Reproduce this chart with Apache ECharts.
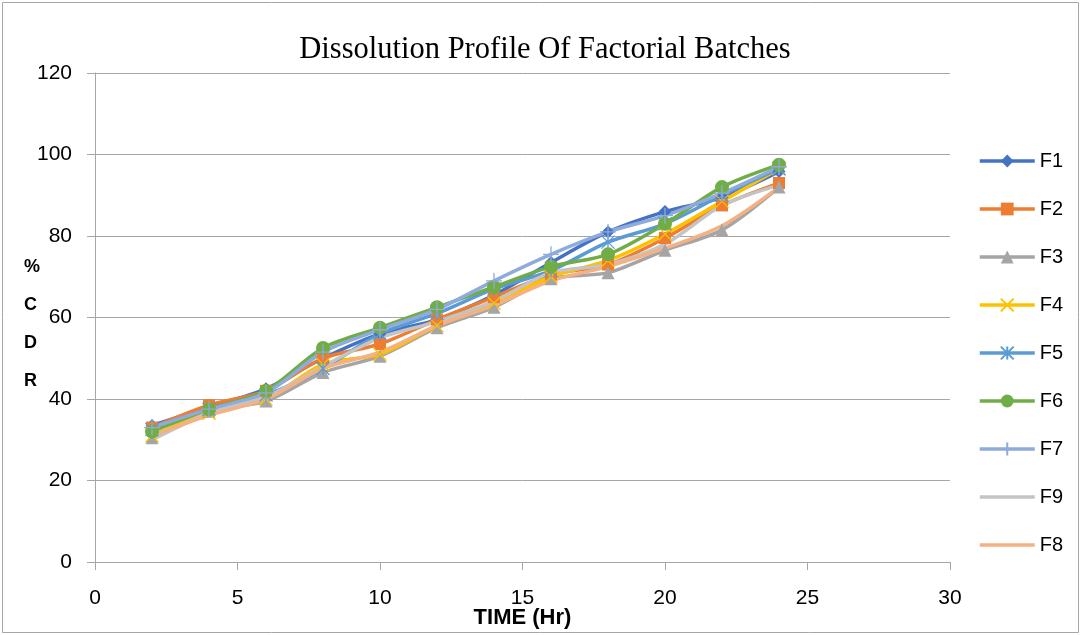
<!DOCTYPE html>
<html>
<head>
<meta charset="utf-8">
<script src="https://cdn.jsdelivr.net/npm/echarts@6/dist/echarts.min.js"></script>
<style>
html,body{margin:0;padding:0;background:#fff;}
#c{width:1081px;height:635px;}
</style>
</head>
<body>
<div id="c"></div>
<script>
const times = [2,4,6,8,10,12,14,16,18,20,22,24];
const seriesNames = ['F1','F2','F3','F4','F5','F6','F7','F9','F8'];
const F1 = [33.5, 38, 42.5, 50, 56, 59.5, 65.5, 73.5, 81, 86, 89.5, 95.8];
const F2 = [33, 38.5, 42, 50, 53.5, 59.5, 65, 70.5, 73, 79.5, 87.5, 93];
const F3 = [30.5, 37, 39.5, 46.5, 50.5, 57.5, 62.5, 69.5, 71, 76.5, 81.5, 92];
const F4 = [31, 36.5, 40, 48.5, 51, 58, 63.5, 70, 74, 80.5, 88.5, 96.5];
const F5 = [32.5, 37.5, 41, 47.5, 56, 61, 67, 71.5, 78.5, 83, 90, 96.5];
const F6 = [32, 37.5, 42, 52.5, 57.5, 62.5, 67.5, 72.5, 75.5, 83, 92, 97.5];
const F7 = [33, 37.5, 41.5, 51.5, 57, 62, 69, 75.5, 81, 85, 90.5, 97];
const F9 = [30, 36.5, 40.5, 48, 55, 59, 64, 71, 73, 78, 87.5, 92.5];
const F8 = [31, 36, 40, 47.5, 51.5, 58, 63, 69, 72.5, 77, 82.5, 92];
const xTicks = [0,5,10,15,20,25,30];
const yTicks = [0,20,40,60,80,100,120];

const values = {F1,F2,F3,F4,F5,F6,F7,F9,F8};
const colors = {F1:'#4472C4',F2:'#ED7D31',F3:'#A5A5A5',F4:'#FFC000',F5:'#5B9BD5',F6:'#70AD47',F7:'#8FAADC',F9:'#C4C4C4',F8:'#F4B183'};
const symbols = {
  F1:'diamond', F2:'rect', F3:'triangle',
  F4:'path://M0,0L10,10M10,0L0,10',
  F5:'path://M0,0L10,10M10,0L0,10M5,0L5,10',
  F6:'circle',
  F7:'path://M5,0L5,10M0,5L10,5',
  F9:'path://M0,0L10,10', F8:'path://M0,0L10,10'
};
const sizes = {F1:13,F2:12,F3:13,F4:13,F5:13,F6:14,F7:16,F9:1,F8:1};
const strokeOnly = {F4:true,F5:true,F7:true};
const noMarker = {F9:true,F8:true};

const chart = echarts.init(document.getElementById('c'));
const series = seriesNames.map(n => ({
  name: n,
  type: 'line',
  smooth: 0.3,
  data: times.map((t,i) => [t, values[n][i]]),
  symbol: symbols[n],
  symbolSize: sizes[n],
  showSymbol: !noMarker[n],
  lineStyle: {color: colors[n], width: 3.5},
  itemStyle: strokeOnly[n]
    ? {color: colors[n], borderColor: colors[n], borderWidth: 1.3}
    : (noMarker[n] ? {color: colors[n], borderWidth: 0} : {color: colors[n]}),
  emphasis: {disabled: true},
  animation: false
}));

chart.setOption({
  animation: false,
  backgroundColor: '#fff',
  title: {
    text: 'Dissolution Profile Of Factorial Batches',
    left: 540, top: 29, textAlign: 'center',
    textStyle: {fontFamily: 'Liberation Serif', fontWeight: 'normal', fontSize: 30.5, color: '#000'}
  },
  grid: {left: 95, right: 131, top: 73, bottom: 73, containLabel: false, outerBoundsMode: 'none'},
  legend: {
    orient: 'vertical', left: 973, top: 146,
    itemWidth: 55, itemHeight: 16, itemGap: 28,
    lineStyle: {width: 3.5},
    textStyle: {fontFamily: 'Liberation Sans', fontSize: 20, color: '#000'},
    data: seriesNames
  },
  xAxis: {
    type: 'value', min: 0, max: 30, interval: 5,
    name: 'TIME (Hr)', nameLocation: 'middle', nameGap: 45, nameMoveOverlap: false,
    nameTextStyle: {fontFamily: 'Liberation Sans', fontWeight: 'bold', fontSize: 22, color: '#000'},
    axisLine: {show: true, lineStyle: {color: '#a6a6a6', width: 1}},
    axisTick: {show: true, length: 8, lineStyle: {color: '#a6a6a6'}},
    splitLine: {show: false},
    axisLabel: {fontFamily: 'Liberation Sans', fontSize: 21, color: '#000', margin: 26,
      formatter: v => xTicks.includes(v) ? String(v) : ''}
  },
  yAxis: {
    type: 'value', min: 0, max: 120, interval: 20,
    axisLine: {show: true, lineStyle: {color: '#a6a6a6', width: 1}},
    axisTick: {show: true, length: 8, lineStyle: {color: '#a6a6a6'}},
    splitLine: {show: true, lineStyle: {color: '#a6a6a6', width: 1}},
    axisLabel: {fontFamily: 'Liberation Sans', fontSize: 21, color: '#000', margin: 23,
      formatter: v => yTicks.includes(v) ? String(v) : ''}
  },
  graphic: [
    {type: 'rect', shape: {x: 2.5, y: 2.5, width: 1076, height: 630}, style: {fill: 'none', stroke: '#a6a6a6', lineWidth: 1}, silent: true, z: -1},
    {type: 'text', left: 24, top: 248, style: {text: '%\nC\nD\nR', font: 'bold 18px "Liberation Sans"', fill: '#000', lineHeight: 38, textAlign: 'left'}}
  ],
  series: series
});
</script>
</body>
</html>
